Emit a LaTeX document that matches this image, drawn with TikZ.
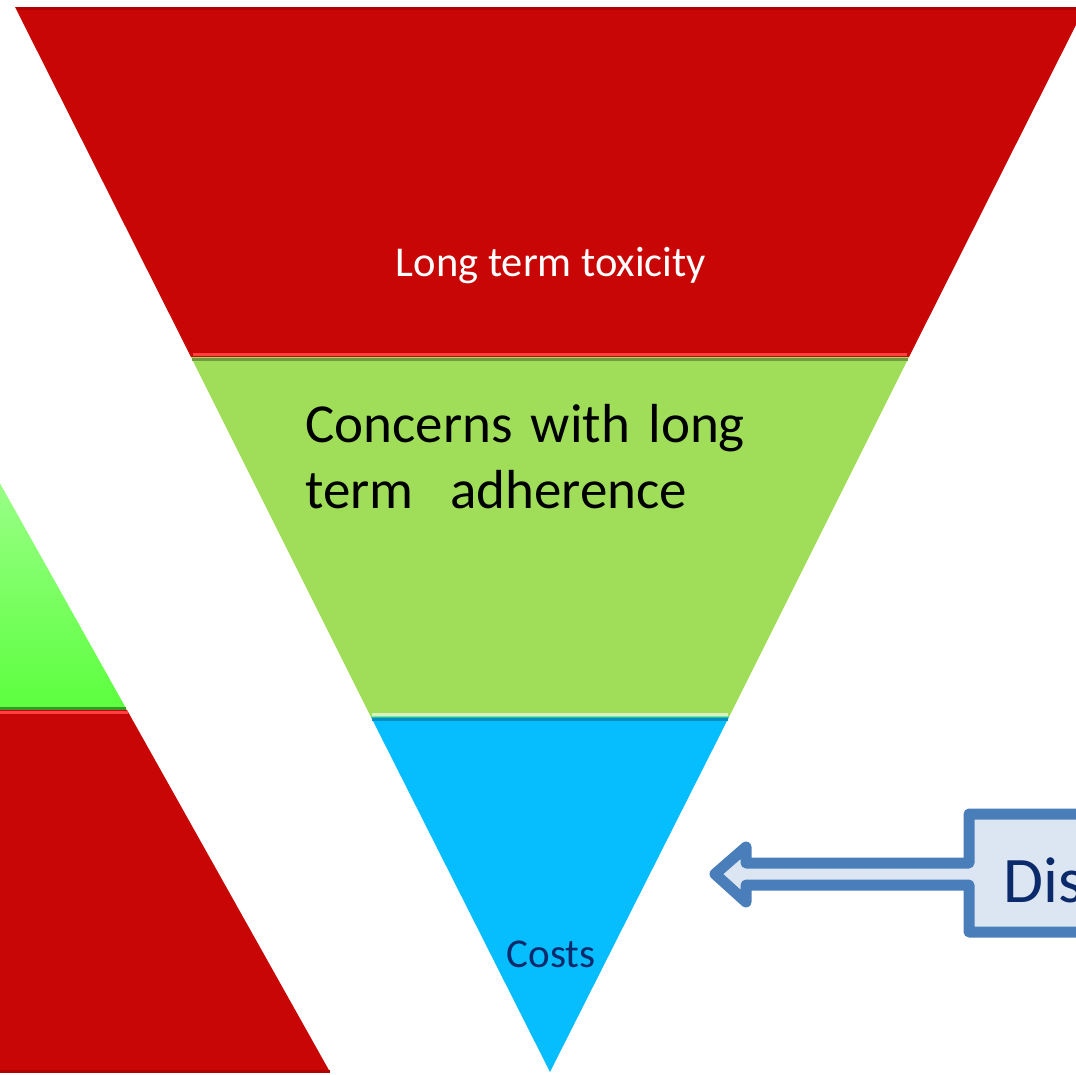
\documentclass[tikz,border=0pt]{standalone}
\usepackage{fontspec}
\setmainfont{Carlito}
\usetikzlibrary{positioning}
\definecolor{funnelred}{HTML}{C80606}
\definecolor{funnelgreen}{HTML}{A0DE5A}
\definecolor{funnelblue}{HTML}{06BEFD}
\definecolor{leftgreen}{HTML}{5CFF3E}
\definecolor{leftgreentop}{HTML}{9AFF88}
\definecolor{calloutfill}{HTML}{DCE6F2}
\definecolor{calloutline}{HTML}{4A7EBB}
\definecolor{navytext}{HTML}{0B2A6C}

\begin{document}
\begin{tikzpicture}[x=1pt,y=-1pt,
  main text/.style={inner sep=0pt,font=\fontsize{42.5}{50}\selectfont},
  band/.style={draw=none},
  bevel/.style={line width=3pt}]

\useasboundingbox (0,0) rectangle (1076,1074);
\clip (0,0) rectangle (1076,1074);

% Main funnel
  \fill[band,funnelred] (15,7) -- (1085,7) -- (909,357) -- (191,357) -- cycle;
  \fill[band,funnelgreen] (191,357) -- (909,357) -- (729,717) -- (371,717) -- cycle;
  \fill[band,funnelblue] (371,717) -- (729,717) -- (550,1072) -- cycle;

  % bevel edges
  \draw[bevel,red!70!black] (17,8.5) -- (1084,8.5);
  \draw[bevel,red!75!white] (193,354) -- (907,354);
  \draw[bevel,funnelgreen!70!black] (192,359) -- (908,359);
  \draw[bevel,funnelgreen!40!white] (372,714) -- (728,714);
  \draw[bevel,funnelblue!75!black] (372,719) -- (728,719);

% Left pyramid
  \shade[top color=leftgreentop,bottom color=leftgreen] (-3,478) -- (127,710) -- (-3,710) -- cycle;
  \fill[funnelred] (-3,710) -- (127,710) -- (330,1072) -- (-3,1072) -- cycle;
  \draw[bevel,leftgreen!60!black] (-3,708) -- (126,708);
  \draw[bevel,red!75!white] (-3,712) -- (128,712);
  \draw[bevel,red!70!black] (-3,1071) -- (330,1071);

% Texts
  \node[main text,white,anchor=base] (toxicity) at (551,276) {Long term toxicity};
  \node[inner sep=0pt,anchor=base west,text width=460pt,align=left,
    font=\fontsize{55}{66}\selectfont] (adherence) at (305,442)
    {Concerns with long\\term\ \ adherence};
  \node[main text,navytext,anchor=base,font=\fontsize{41}{48}\selectfont]
    (costs) at (551,967) {Costs};

% Callout with arrow
  \draw[line width=11pt,line join=round,draw=calloutline,fill=calloutfill]
    (969,814) -- (1100,814) -- (1100,932) -- (969,932) -- (969,885)
    -- (746,885) -- (746,902) -- (715,874) -- (746,847) -- (746,863)
    -- (969,863) -- cycle;
  \node[inner sep=0pt,anchor=base west,navytext,font=\fontsize{65}{78}\selectfont]
    (dis) at (1003,902) {Dis};

\end{tikzpicture}
\end{document}
